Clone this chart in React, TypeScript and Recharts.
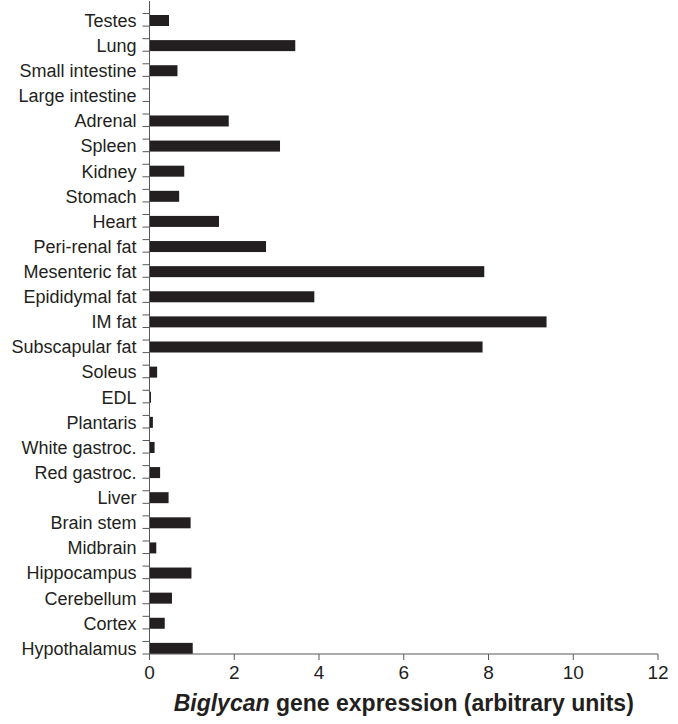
import React from 'react'
import { BarChart, Bar, XAxis, YAxis } from 'recharts'

// tissues, top to bottom as they appear on the chart
const tissues = [
  'Testes',
  'Lung',
  'Small intestine',
  'Large intestine',
  'Adrenal',
  'Spleen',
  'Kidney',
  'Stomach',
  'Heart',
  'Peri-renal fat',
  'Mesenteric fat',
  'Epididymal fat',
  'IM fat',
  'Subscapular fat',
  'Soleus',
  'EDL',
  'Plantaris',
  'White gastroc.',
  'Red gastroc.',
  'Liver',
  'Brain stem',
  'Midbrain',
  'Hippocampus',
  'Cerebellum',
  'Cortex',
  'Hypothalamus',
]

const expression = [
  0.46, 3.44, 0.66, 0, 1.87, 3.08, 0.82, 0.7, 1.64, 2.75, 7.9, 3.89, 9.37, 7.86,
  0.18, 0.035, 0.08, 0.12, 0.25, 0.45, 0.97, 0.16, 0.99, 0.53, 0.36, 1.02,
]

const xTicks = [0, 2, 4, 6, 8, 10, 12]

const data = tissues.map((t, i) => ({ tissue: t, value: expression[i] }))

const INK = '#231f20'
const AXIS = '#58585a'
const FONT = '"Liberation Sans", Arial, Helvetica, sans-serif'
const BAR_H = 11

function TissueTick(props: any) {
  const { x, y, payload } = props
  const half = payload.offset ?? 12.5
  const axisX = x + 13
  return (
    <g>
      <line x1={axisX - 7} x2={axisX} y1={y} y2={y} stroke={AXIS} strokeWidth={1} />
      <line x1={axisX - 7} x2={axisX} y1={y + half} y2={y + half} stroke={AXIS} strokeWidth={1} />
      <text
        x={x}
        y={y + 7}
        dy="0.35em"
        textAnchor="end"
        fontSize={18}
        fontFamily={FONT}
        fill={INK}
      >
        {payload.value}
      </text>
    </g>
  )
}

// bar sits in the lower part of each category band
function LowerBar(props: any) {
  const { x, y, width, height } = props
  if (!width || width <= 0) return null
  return <rect x={x} y={y + height - BAR_H} width={width} height={BAR_H} fill={INK} />
}

function AxisTitle(props: any) {
  const vb = props.viewBox || { x: 149.5, y: 654, width: 508.5, height: 70 }
  return (
    <text
      x={vb.x + vb.width / 2}
      y={vb.y + 57}
      textAnchor="middle"
      fontSize={23}
      fontWeight="bold"
      fontFamily={FONT}
      fill={INK}
    >
      <tspan fontStyle="italic">Biglycan</tspan>
      <tspan> gene expression (arbitrary units)</tspan>
    </text>
  )
}

export default function App() {
  return (
    <div style={{ width: 678, height: 724, background: '#fff' }}>
      <style>{'body{margin:0}'}</style>
      <BarChart
        width={678}
        height={724}
        data={data}
        layout="vertical"
        margin={{ top: 1, right: 20, left: 0, bottom: 0 }}
        barCategoryGap={0}
      >
        <XAxis
          type="number"
          domain={[0, 12]}
          ticks={xTicks}
          interval={0}
          height={70}
          tickSize={6}
          tickMargin={6}
          stroke={AXIS}
          tick={{ fontSize: 19, fontFamily: FONT, fill: INK }}
          label={<AxisTitle />}
        />
        <YAxis
          type="category"
          dataKey="tissue"
          width={149.5}
          interval={0}
          tickLine={false}
          tickSize={7}
          tickMargin={6}
          stroke={AXIS}
          tick={<TissueTick />}
        />
        <Bar dataKey="value" shape={<LowerBar />} isAnimationActive={false} />
      </BarChart>
    </div>
  )
}
